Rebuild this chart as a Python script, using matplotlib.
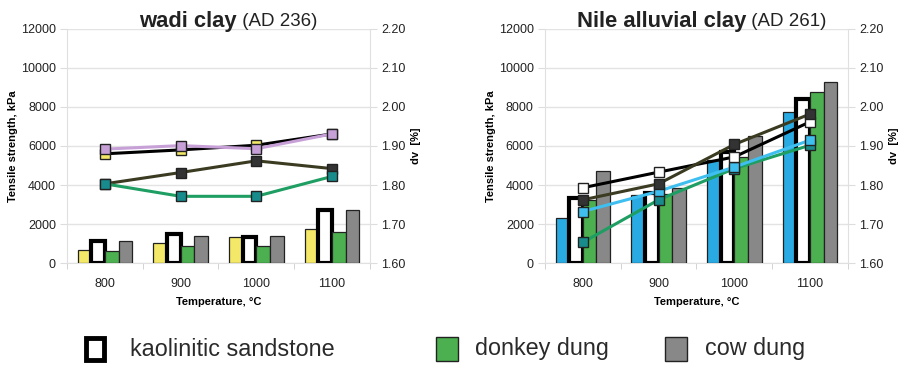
import matplotlib
matplotlib.use("Agg")
import matplotlib.pyplot as plt
import numpy as np
from matplotlib.patches import Rectangle

plt.rcParams['font.family'] = ['Liberation Sans', 'DejaVu Sans']

categories = ["800", "900", "1000", "1100"]

# Tensile strength (kPa) - bars
wadi_yellow = [680, 1050, 1320, 1730]
wadi_kaolin = [1150, 1480, 1330, 2700]
wadi_donkey = [600, 850, 880, 1600]
wadi_cow = [1150, 1400, 1400, 2700]

nile_blue = [2330, 3500, 5270, 7720]
nile_kaolin = [3350, 3600, 5700, 8420]
nile_donkey = [3240, 3550, 5440, 8780]
nile_cow = [4700, 3860, 6500, 9300]

# dv (%) - lines
wadi_dv_purple = [1.892, 1.901, 1.893, 1.931]
wadi_dv_yellow = [1.880, 1.890, 1.902, 1.931]
wadi_dv_cow = [1.803, 1.832, 1.862, 1.842]
wadi_dv_donkey = [1.803, 1.771, 1.771, 1.822]

nile_dv_kaolin = [1.793, 1.833, 1.872, 1.962]
nile_dv_cow = [1.762, 1.803, 1.904, 1.982]
nile_dv_blue = [1.732, 1.784, 1.846, 1.915]
nile_dv_donkey = [1.653, 1.762, 1.842, 1.902]

legend_labels = ["kaolinitic sandstone", "donkey dung", "cow dung"]

YELLOW = "#F4E868"
GREEN = "#4DB050"
GRAY = "#888888"
BLUE = "#2AAAE2"
PURPLE = "#C8A0D8"
TEAL = "#188C8C"
OLIVE = "#3B3B22"
GLINE = "#1E9E62"
LBLUE = "#3FBFEF"
DARK = "#333333"

fig = plt.figure(figsize=(9.03, 3.66), dpi=100)
W, H = 903.0, 366.0

def panel(rect, first_color, vals, lines, title_bold, title_norm, title_x):
    ax = fig.add_axes(rect)
    x = np.arange(len(categories))
    w = 0.18
    offs = [-1.5 * w, -0.5 * w, 0.5 * w, 1.5 * w]
    colors = [first_color, "white", GREEN, GRAY]
    for i, (v, c) in enumerate(zip(vals, colors)):
        if c == "white":
            ax.bar(x + offs[i], v, w, color="white", edgecolor="black", linewidth=3.0, zorder=3)
        else:
            ax.bar(x + offs[i], v, w, color=c, edgecolor="#222222", linewidth=0.9, zorder=3)
    ax.set_xlim(-0.5, 3.5)
    ax.set_ylim(0, 12000)
    ax.set_yticks(np.arange(0, 12001, 2000))
    ax.set_xticks(x)
    ax.set_xticklabels(categories)
    ax.set_xticks(np.arange(-0.5, 3.6, 1), minor=True)
    ax.tick_params(axis='x', which='major', length=0, labelsize=9, colors="#222222", pad=11)
    ax.tick_params(axis='x', which='minor', length=4, color="#cccccc")
    ax.tick_params(axis='y', length=5, color="#dddddd", labelsize=9, labelcolor="#222222", pad=3)
    ax.grid(axis='y', color="#e3e3e3", linewidth=1.0, zorder=0)
    for s in ["top", "right"]:
        ax.spines[s].set_visible(False)
    ax.spines["left"].set_color("#e0e0e0")
    ax.spines["bottom"].set_color("#e0e0e0")
    ax.set_ylabel("Tensile strength, kPa", fontsize=8, fontweight="bold", labelpad=2)
    ax.set_xlabel("Temperature, \u00b0C", fontsize=8, fontweight="bold", labelpad=5)

    ax2 = ax.twinx()
    ax2.set_ylim(1.60, 2.20)
    ticks = np.arange(1.60, 2.201, 0.10)
    ax2.set_yticks(ticks)
    ax2.set_yticklabels([f"{t:.2f}" for t in ticks])
    ax2.tick_params(axis='y', length=5, color="#dddddd", labelsize=9, labelcolor="#222222", pad=3)
    for s in ["top", "left", "bottom"]:
        ax2.spines[s].set_visible(False)
    ax2.spines["right"].set_color("#e0e0e0")
    ax2.set_ylabel("dv  [%]", fontsize=8, fontweight="bold", rotation=90, labelpad=4)
    for yv, lc, mc in lines:
        ax2.plot(x, yv, color=lc, linewidth=2.2, marker="s", markersize=6.5,
                 markerfacecolor=mc, markeredgecolor="#222222", markeredgewidth=1.0, zorder=4)

    t1 = fig.text(0, 0, title_bold, fontsize=15.8, fontweight="bold", color="#222222")
    t2 = fig.text(0, 0, " " + title_norm, fontsize=13.5, color="#222222")
    fig.canvas.draw()
    r = fig.canvas.get_renderer()
    b1 = t1.get_window_extent(r)
    b2 = t2.get_window_extent(r)
    tot = b1.width + b2.width
    x0 = title_x * W - tot / 2
    y0 = (H - 26.5)
    t1.set_position((x0 / W, y0 / H))
    t2.set_position(((x0 + b1.width) / W, y0 / H))
    return ax, ax2

panel([0.0742, 0.2814, 0.3355, 0.6394], YELLOW,
      [wadi_yellow, wadi_kaolin, wadi_donkey, wadi_cow],
      [(wadi_dv_cow, OLIVE, DARK),
       (wadi_dv_donkey, GLINE, TEAL),
       (wadi_dv_yellow, "black", YELLOW),
       (wadi_dv_purple, PURPLE, PURPLE)],
      "wadi clay", "(AD 236)", 228 / W)

panel([0.6035, 0.2814, 0.3355, 0.6394], BLUE,
      [nile_blue, nile_kaolin, nile_donkey, nile_cow],
      [(nile_dv_donkey, GLINE, TEAL),
       (nile_dv_blue, LBLUE, LBLUE),
       (nile_dv_kaolin, "black", "white"),
       (nile_dv_cow, OLIVE, DARK)],
      "Nile alluvial clay", "(AD 261)", 701.5 / W)

# Legend (drawn manually to match spacing)
leg_specs = [
    (95, 130, "white", "black", 3.5, 18, 22),
    (447, 475, GREEN, "#222222", 1.0, 22, 24),
    (676, 705, GRAY, "#222222", 1.0, 22, 24),
]
yc = H - 349
for (mx, tx, fc, ec, lw, mw, mh), lab in zip(leg_specs, legend_labels):
    fig.patches.append(Rectangle(((mx - mw / 2) / W, (yc - mh / 2) / H), mw / W, mh / H,
                                 facecolor=fc, edgecolor=ec, linewidth=lw,
                                 transform=fig.transFigure, figure=fig))
    fig.text(tx / W, yc / H, lab, fontsize=16.8, color="#2a2a2a", ha="left", va="center")

fig.savefig("out.png", dpi=100)
